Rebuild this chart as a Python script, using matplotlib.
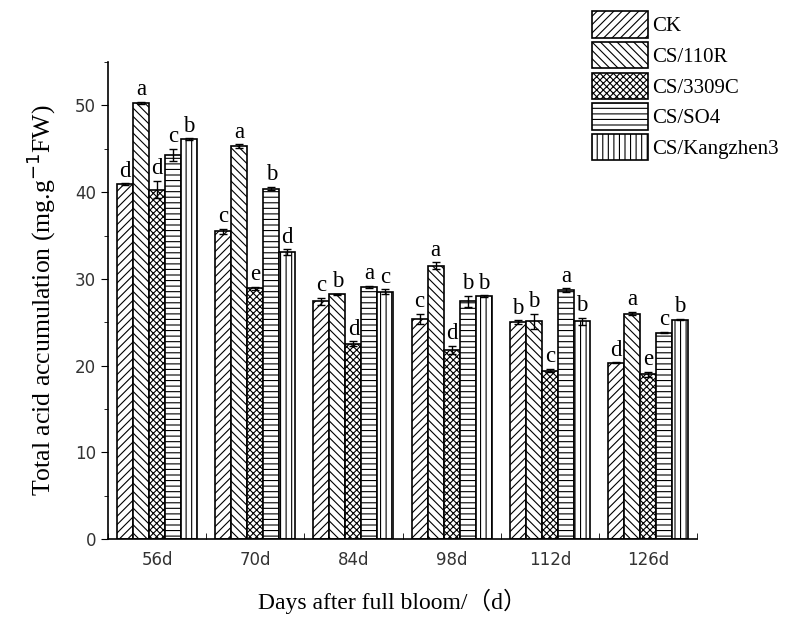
import numpy as np
import matplotlib.pyplot as plt
from matplotlib.ticker import MultipleLocator

# 数据
days = ['56d', '70d', '84d', '98d', '112d', '126d']
treatments = ['CK', 'CS/110R', 'CS/3309C', 'CS/SO4', 'CS/Kangzhen3']

ck = [40.9, 35.5, 27.4, 25.4, 25.0, 20.3]
r110 = [50.3, 45.3, 28.2, 31.5, 25.1, 26.0]
c3309 = [40.3, 28.9, 22.5, 21.8, 19.4, 19.0]
so4 = [44.3, 40.4, 29.1, 27.4, 28.7, 23.8]
kz3 = [46.1, 33.1, 28.5, 28.0, 25.1, 25.3]

ck_err = [0.1, 0.3, 0.4, 0.6, 0.2, 0.05]
r110_err = [0.15, 0.2, 0.1, 0.4, 0.9, 0.15]
c3309_err = [1.0, 0.2, 0.3, 0.5, 0.2, 0.3]
so4_err = [0.7, 0.2, 0.1, 0.6, 0.2, 0.05]
kz3_err = [0.1, 0.3, 0.3, 0.1, 0.4, 0.1]

ck_sig = ['d', 'c', 'c', 'c', 'b', 'd']
r110_sig = ['a', 'a', 'b', 'a', 'b', 'a']
c3309_sig = ['d', 'e', 'd', 'd', 'c', 'e']
so4_sig = ['c', 'b', 'a', 'b', 'a', 'c']
kz3_sig = ['b', 'd', 'c', 'b', 'b', 'b']

series = [ck, r110, c3309, so4, kz3]
errors = [ck_err, r110_err, c3309_err, so4_err, kz3_err]
sigs = [ck_sig, r110_sig, c3309_sig, so4_sig, kz3_sig]
hatches = ['////', '\\\\\\\\', 'xxxxx', '---', '|||']

plt.rcParams['hatch.linewidth'] = 0.8
serif = ['Liberation Serif', 'Noto Sans CJK SC']

fig = plt.figure(figsize=(7.85, 6.34), dpi=100)
ax = fig.add_axes([0.1376, 0.15, 0.7504, 0.752])

x = np.arange(len(days))
width = 0.163

for i, (vals, err, sig, h, name) in enumerate(zip(series, errors, sigs, hatches, treatments)):
    pos = x + (i - 2) * width
    ax.bar(pos, vals, width, color='white', edgecolor='black', linewidth=1.2,
           hatch=h, label=name)
    ax.errorbar(pos, vals, yerr=err, fmt='none', ecolor='black', elinewidth=1,
                capsize=3, capthick=1)
    for p, v, e, s in zip(pos, vals, err, sig):
        ax.text(p, v + e + 0.2, s, ha='center', va='bottom', fontsize=16.5,
                family=serif)

ax.set_xlim(-0.5, 5.5)
ax.set_ylim(0, 55)
ax.yaxis.set_major_locator(MultipleLocator(10))
ax.yaxis.set_minor_locator(MultipleLocator(5))
ax.set_xticks(x)
ax.set_xticklabels(days)
ax.set_xticks(np.arange(-0.5, 6, 1), minor=True)
ax.tick_params(axis='x', which='major', length=0, pad=9, labelsize=12, labelcolor='#333333')
ax.tick_params(axis='x', which='minor', direction='in', length=4)
ax.tick_params(axis='y', which='major', direction='out', length=5, labelsize=12, labelcolor='#333333')
ax.tick_params(axis='y', which='minor', direction='out', length=3)

for side in ['top', 'right']:
    ax.spines[side].set_visible(False)
ax.spines['left'].set_linewidth(1.2)
ax.spines['bottom'].set_linewidth(1.2)

ax.set_ylabel('Total acid accumulation (mg.g$^{-1}$FW)', fontsize=18.5, family=serif, labelpad=12)
fig.text(0.5, 0.04, 'Days after full bloom/（d）', ha='center', fontsize=17, family=serif)

leg = fig.legend(loc='upper left', bbox_to_anchor=(0.754, 0.982), frameon=False,
                 prop={'family': serif, 'size': 15}, handlelength=2.7,
                 handleheight=1.55, labelspacing=0.22, handletextpad=0.2,
                 borderaxespad=0, borderpad=0)

plt.savefig('out.png', dpi=100)
